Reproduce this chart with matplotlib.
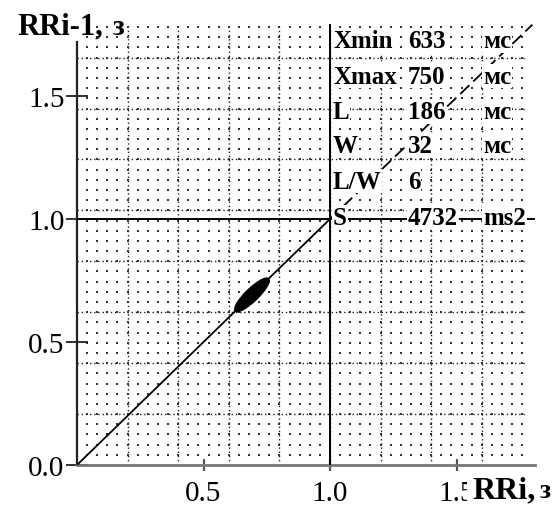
import numpy as np
import matplotlib
matplotlib.use("Agg")
import matplotlib.pyplot as plt
from matplotlib.patches import Ellipse

# ---- data ----
stat_labels = ["Xmin", "Xmax", "L", "W", "L/W", "S"]
stat_values = ["633", "750", "186", "32", "6", "4732"]
stat_units = ["мс", "мс", "мс", "мс", "", "ms2"]
x_min_s = 0.633
x_max_s = 0.750
length_s = 0.186
width_s = 0.032
ytick_vals = [0.0, 0.5, 1.0, 1.5]
xtick_vals = [0.5, 1.0, 1.5]
xtick_labels = ["0.5", "1.0", "1.5"]
ytick_labels = ["0.0", "0.5", "1.0", "1.5"]

W_PX, H_PX = 559, 506
fig = plt.figure(figsize=(W_PX / 100, H_PX / 100), dpi=100)

x0_px, y0_px = 77, 466
sx, sy = 253.0, 246.0
xmax, ymax = 1.81, 1.80
ax = fig.add_axes([x0_px / W_PX, (H_PX - y0_px) / H_PX,
                   xmax * sx / W_PX, ymax * sy / H_PX])
ax.set_xlim(0, xmax)
ax.set_ylim(0, ymax)
ax.patch.set_alpha(0)

serif = ["Liberation Serif", "DejaVu Serif"]

# ---- grid ----
gx_major = np.arange(0.2, 1.61, 0.2)
gy_step = 0.207
gy_major = np.arange(1, 9) * gy_step
for gx in gx_major:
    ax.plot([gx, gx], [0, 1.78], linestyle=(0, (1, 2)), lw=1.0, color="#222222", zorder=1)
for gy in gy_major:
    ax.plot([0, 1.78], [gy, gy], linestyle=(0, (1, 2)), lw=1.0, color="#222222", zorder=1)
mx = np.arange(0.04, 1.77, 0.04)
my = np.arange(1, 44) * gy_step / 5
MX, MY = np.meshgrid(mx, my)
ax.scatter(MX.ravel(), MY.ravel(), s=2.0, marker="s", color="#333333", linewidths=0, zorder=1)

# ---- reference lines ----
ax.plot([0, xmax], [1.0, 1.0], color="black", lw=1.4, zorder=3)
ax.plot([1.0, 1.0], [0, 1.79], color="black", lw=1.4, zorder=3)

# ---- diagonal ----
ax.plot([0, 1.0], [0, 1.0], color="black", lw=1.3, zorder=3)
ax.plot([1.0, 1.80], [1.0, 1.79], color="black", lw=1.3, linestyle=(0, (7, 3)), zorder=3)

# ---- scatter cloud ----
cx = (x_min_s + x_max_s) / 2
ax.add_patch(Ellipse((cx, cx), length_s, width_s * 1.6, angle=45, color="black", zorder=4))

# ---- table ----
row_y = [1.724, 1.581, 1.435, 1.297, 1.154, 1.006]
col_x = [1.012, 1.308, 1.605]
bb = dict(facecolor="white", edgecolor="none", pad=0.5)
for i in range(len(stat_labels)):
    for cxp, txt in zip(col_x, [stat_labels[i], stat_values[i], stat_units[i]]):
        if txt:
            ax.text(cxp, row_y[i], txt, family=serif, fontweight="bold", fontsize=18,
                    ha="left", va="center", bbox=bb, zorder=5)

# ---- spines / ticks ----
for s in ["top", "right"]:
    ax.spines[s].set_visible(False)
ax.spines["left"].set_bounds(0, 1.72)
ax.spines["left"].set_linewidth(1.6)
ax.spines["left"].set_color("#222222")
ax.spines["bottom"].set_linewidth(2.0)
ax.spines["bottom"].set_color("#777777")
ax.spines["left"].set_zorder(2)
ax.spines["bottom"].set_zorder(2)

ax.set_yticks(ytick_vals)
ax.set_yticklabels(ytick_labels)
ax.set_xticks(xtick_vals)
ax.set_xticklabels(xtick_labels)
ax.tick_params(axis="y", direction="inout", length=16, width=1.3, color="#222222", pad=1,
               labelsize=21)
ax.tick_params(axis="x", direction="inout", length=9, width=1.6, color="#555555", pad=6,
               labelsize=21)
for lab in ax.get_xticklabels() + ax.get_yticklabels():
    lab.set_family(serif)

# ---- axis titles ----
fig.text(17 / W_PX, 1 - 34 / H_PX, "RRi-1,", family=serif, fontweight="bold",
         fontsize=22, ha="left", va="baseline")
fig.text(113 / W_PX, 1 - 35 / H_PX, "з", family=serif, fontweight="bold",
         fontsize=21, ha="left", va="baseline")
fig.text(472 / W_PX, 1 - 498 / H_PX, "RRi,", family=serif, fontweight="bold",
         fontsize=23, ha="left", va="baseline",
         bbox=dict(facecolor="white", edgecolor="none", pad=4))
fig.text(540 / W_PX, 1 - 498 / H_PX, "з", family=serif, fontweight="bold",
         fontsize=20, ha="left", va="baseline")

fig.savefig("out.png", dpi=100)
